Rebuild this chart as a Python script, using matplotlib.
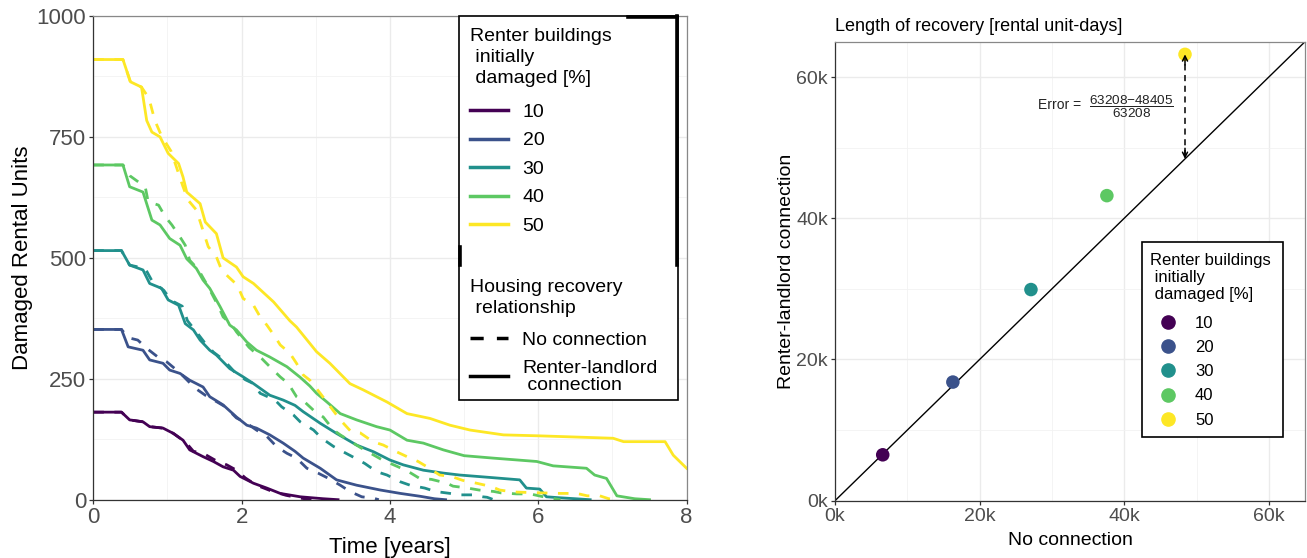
import matplotlib.pyplot as plt
from matplotlib.lines import Line2D
from matplotlib.patches import Rectangle
from matplotlib.ticker import MultipleLocator, FuncFormatter

plt.rcParams['font.family'] = ['Liberation Sans', 'DejaVu Sans']
plt.rcParams['mathtext.fontset'] = 'custom'
plt.rcParams['mathtext.rm'] = 'Liberation Sans'
plt.rcParams['mathtext.it'] = 'Liberation Sans:italic'
plt.rcParams['mathtext.bf'] = 'Liberation Sans:bold'

# ---- data ----
levels = ['10', '20', '30', '40', '50']
colors = ['#440154', '#3B528B', '#21908C', '#5DC863', '#FDE725']

# renter-landlord connection (solid lines): time [years], damaged rental units
t_conn_10 = [0, 0.38, 0.49, 0.67, 0.76, 0.94, 1.08, 1.21, 1.30, 1.48, 1.62, 1.75, 1.89, 1.98, 2.16, 2.34, 2.52, 2.79, 3.1, 3.3]
v_conn_10 = [181, 181, 165, 161, 151, 148, 137, 123, 103, 89, 79, 68, 61, 48, 34, 24, 13, 6, 2, 0]
t_conn_20 = [0, 0.38, 0.47, 0.67, 0.76, 0.94, 1.03, 1.17, 1.30, 1.48, 1.57, 1.75, 1.93, 2.07, 2.20, 2.38, 2.56, 2.72,
             2.83, 3.06, 3.28, 3.55, 3.87, 4.14, 4.41, 4.6, 4.75]
v_conn_20 = [352, 352, 316, 309, 289, 282, 268, 261, 247, 233, 213, 196, 171, 154, 148, 134, 117, 100,
             86, 65, 41, 30, 20, 13, 7, 2, 0]
t_conn_30 = [0, 0.38, 0.49, 0.67, 0.76, 0.92, 1.01, 1.15, 1.24, 1.35, 1.44, 1.57, 1.66, 1.84, 2.02, 2.16, 2.38, 2.56,
             2.72, 2.83, 3.06, 3.28, 3.55, 3.78, 4.0, 4.18, 4.45, 4.72, 4.94, 5.35, 5.75, 5.84, 6.02, 6.11, 6.29, 6.5, 6.7]
v_conn_30 = [515, 515, 485, 475, 447, 437, 413, 402, 364, 351, 330, 309, 299, 271, 254, 240, 216, 206,
             195, 182, 158, 137, 113, 99, 82, 72, 61, 55, 51, 46, 41, 24, 22, 6, 4, 2, 0]
t_conn_40 = [0, 0.40, 0.49, 0.67, 0.79, 0.90, 1.03, 1.17, 1.26, 1.39, 1.48, 1.57, 1.71, 1.84, 1.93, 2.07, 2.20, 2.38,
             2.61, 2.79, 2.92, 3.01, 3.15, 3.33, 3.55, 3.82, 4.0, 4.23, 4.45, 4.72, 5.0, 5.39, 5.98, 6.2, 6.65, 6.76,
             6.92, 7.06, 7.3, 7.5]
v_conn_40 = [692, 692, 647, 636, 578, 568, 540, 526, 498, 478, 454, 437, 399, 361, 351, 326, 309, 295,
             275, 253, 235, 220, 202, 178, 165, 151, 144, 123, 117, 103, 91, 86, 79, 70, 65, 51,
             44, 8, 2, 0]
t_conn_50 = [0, 0.40, 0.50, 0.65, 0.72, 0.79, 0.90, 1.01, 1.15, 1.21, 1.26, 1.44, 1.51, 1.66, 1.75, 1.93, 2.02, 2.16,
             2.43, 2.65, 2.74, 2.92, 3.01, 3.19, 3.46, 3.64, 3.96, 4.23, 4.54, 4.81, 5.08, 5.53, 6.02, 7.01, 7.15,
             7.71, 7.82, 8.0]
v_conn_50 = [910, 910, 864, 853, 784, 760, 750, 716, 695, 667, 636, 612, 574, 550, 500, 481, 461, 447,
             409, 370, 357, 323, 306, 282, 240, 227, 202, 178, 168, 154, 144, 134, 132, 127, 120,
             120, 92, 65]

# no connection (dashed lines)
t_none_10 = [0, 0.38, 0.49, 0.67, 0.76, 0.94, 1.08, 1.25, 1.35, 1.48, 1.64, 1.80, 1.93, 2.05, 2.2, 2.4, 2.6, 2.8, 2.95]
v_none_10 = [181, 181, 165, 161, 151, 148, 137, 118, 100, 96, 82, 72, 61, 45, 30, 18, 9, 3, 0]
t_none_20 = [0, 0.38, 0.47, 0.60, 0.72, 0.87, 0.99, 1.17, 1.37, 1.51, 1.67, 1.78, 1.93, 2.07, 2.2, 2.34, 2.47, 2.61,
             2.74, 2.88, 3.03, 3.16, 3.33, 3.46, 3.62, 3.78, 3.85]
v_none_20 = [352, 352, 335, 330, 313, 295, 285, 262, 231, 216, 202, 192, 169, 158, 144, 131, 110, 96,
             86, 65, 55, 45, 30, 17, 6, 3, 0]
t_none_30 = [0, 0.38, 0.49, 0.70, 0.80, 0.95, 1.05, 1.2, 1.27, 1.40, 1.50, 1.62, 1.75, 1.90, 2.05, 2.16, 2.25, 2.45,
             2.54, 2.70, 2.79, 2.97, 3.08, 3.24, 3.37, 3.53, 3.66, 3.82, 3.96, 4.14, 4.27, 4.47, 4.61, 4.81, 4.94,
             5.12, 5.25, 5.31, 5.4]
v_none_30 = [515, 515, 485, 478, 450, 433, 412, 400, 370, 345, 325, 305, 290, 265, 248, 240, 220, 206,
             192, 175, 161, 144, 127, 110, 99, 86, 75, 58, 51, 37, 30, 24, 17, 13, 10,
             10, 6, 5, 0]
t_none_40 = [0, 0.40, 0.49, 0.58, 0.70, 0.74, 0.88, 0.97, 1.06, 1.17, 1.24, 1.30, 1.42, 1.55, 1.69, 1.75, 1.87, 1.93,
             2.10, 2.27, 2.38, 2.52, 2.63, 2.74, 2.85, 2.99, 3.10, 3.24, 3.33, 3.6, 3.9, 4.11, 4.25, 4.40, 4.56,
             4.77, 4.85, 5.05, 5.2, 5.4, 5.5, 5.71, 5.89, 6.1, 6.3]
v_none_40 = [692, 692, 670, 660, 647, 616, 609, 585, 568, 543, 526, 495, 475, 440, 399, 378, 361, 347,
             315, 292, 275, 254, 240, 213, 202, 182, 171, 144, 134, 108, 82, 68, 58, 44, 42,
             34, 28, 24, 20, 17, 14, 12, 12, 5, 0]
t_none_50 = [0, 0.40, 0.50, 0.65, 0.75, 0.83, 0.92, 1.05, 1.21, 1.28, 1.39, 1.55, 1.66, 1.73, 1.82, 1.94, 2.02, 2.16,
             2.25, 2.34, 2.45, 2.52, 2.65, 2.74, 2.83, 2.92, 3.06, 3.33, 3.48, 3.6, 3.77, 3.91, 4.09, 4.23, 4.38,
             4.5, 4.67, 4.83, 4.98, 5.17, 5.37, 5.48, 5.66, 5.85, 6.29, 6.52, 6.66, 6.83, 6.95, 7.05]
v_none_50 = [910, 910, 864, 853, 830, 784, 752, 720, 647, 619, 599, 523, 502, 475, 461, 444, 416, 402,
             378, 361, 337, 320, 303, 282, 258, 247, 220, 165, 140, 138, 120, 113, 99, 89, 79,
             68, 51, 48, 40, 34, 27, 20, 16, 15, 13, 13, 8, 8, 2, 0]

t_conn = [t_conn_10, t_conn_20, t_conn_30, t_conn_40, t_conn_50]
v_conn = [v_conn_10, v_conn_20, v_conn_30, v_conn_40, v_conn_50]
t_none = [t_none_10, t_none_20, t_none_30, t_none_40, t_none_50]
v_none = [v_none_10, v_none_20, v_none_30, v_none_40, v_none_50]

# length of recovery [rental unit-days]
days_no_conn = [6600, 16300, 27100, 37600, 48405]
days_conn = [6500, 16800, 29900, 43200, 63208]

# ---- figure ----
W, H = 1307, 558
fig = plt.figure(figsize=(W / 100, H / 100), dpi=100)


def style_axes(ax):
    ax.set_axisbelow(True)
    ax.grid(which='major', color='#EBEBEB', lw=1.0)
    ax.grid(which='minor', color='#F2F2F2', lw=0.6)
    for side in ['left', 'bottom']:
        ax.spines[side].set_color('#333333')
    for side in ['top', 'right']:
        ax.spines[side].set_color('#888888')
    for s in ax.spines.values():
        s.set_linewidth(0.9)
    ax.tick_params(which='major', length=3, width=0.9, color='#333333', labelcolor='#4D4D4D', pad=2)
    ax.tick_params(which='minor', length=0)


# left panel: damaged units over time
ax1 = fig.add_axes([93.3 / W, 1 - 499.7 / H, 593.3 / W, 483.7 / H])
style_axes(ax1)
for i in range(5):
    ax1.plot(t_none[i], v_none[i], color=colors[i], lw=2, dashes=(3.8, 3.8))
    ax1.plot(t_conn[i], v_conn[i], color=colors[i], lw=2)
ax1.set_xlim(0, 8)
ax1.set_ylim(0, 1000)
ax1.xaxis.set_major_locator(MultipleLocator(2))
ax1.xaxis.set_minor_locator(MultipleLocator(1))
ax1.yaxis.set_major_locator(MultipleLocator(250))
ax1.yaxis.set_minor_locator(MultipleLocator(125))
ax1.tick_params(labelsize=16)
ax1.set_xlabel('Time [years]', fontsize=16, labelpad=7)
ax1.set_ylabel('Damaged Rental Units', fontsize=16, labelpad=3)

# legend box (with the doubled border of the original)
box = Rectangle((459 / W, 1 - 400 / H), 219 / W, 384 / H, transform=fig.transFigure,
                facecolor='white', edgecolor='black', lw=1.2, zorder=4, clip_on=False)
ax1.add_patch(box)
for xs, ys in [([677, 677], [16, 265]), ([628, 677], [16.5, 16.5]), ([460, 460], [247, 265])]:
    ax1.add_line(Line2D([x / W for x in xs], [1 - y / H for y in ys], transform=fig.transFigure,
                        color='black', lw=2.6, zorder=4, clip_on=False))

leg_kw = dict(loc='upper left', bbox_transform=fig.transFigure, frameon=False, fontsize=14,
              title_fontsize=14, alignment='left', handlelength=1.95, handletextpad=0.75,
              labelspacing=0.56, borderpad=0, borderaxespad=0)
h1 = [Line2D([], [], color=c, lw=2.5) for c in colors]
leg1 = ax1.legend(h1, levels, title='Renter buildings\n initially\n damaged [%]',
                  bbox_to_anchor=(470 / W, 1 - 28 / H), **leg_kw)
leg1.get_title().set_linespacing(1.32)
leg1._legend_box.sep = 11.5  # a bit more room under the title
ax1.add_artist(leg1)
h2 = [Line2D([], [], color='black', lw=2.5, dashes=(3.8, 3.8)), Line2D([], [], color='black', lw=2.5)]
leg2 = ax1.legend(h2, ['No connection', 'Renter-landlord\n connection'],
                  title='Housing recovery\n relationship', bbox_to_anchor=(470 / W, 1 - 279 / H), **leg_kw)
leg2.get_title().set_linespacing(1.32)
leg2._legend_box.sep = 10
for t in leg2.get_texts():
    t.set_linespacing(1.02)

# right panel: length of recovery
ax2 = fig.add_axes([835 / W, 1 - 500.7 / H, 470 / W, 459 / H])
style_axes(ax2)
ax2.axline((0, 0), slope=1, color='black', lw=1.0, zorder=2)
ax2.scatter(days_no_conn, days_conn, c=colors, s=95, zorder=3, linewidths=0)
ax2.set_xlim(0, 65000)
ax2.set_ylim(0, 65000)
for axis in [ax2.xaxis, ax2.yaxis]:
    axis.set_major_locator(MultipleLocator(20000))
    axis.set_minor_locator(MultipleLocator(10000))
    axis.set_major_formatter(FuncFormatter(lambda v, p: f'{int(v / 1000)}k'))
ax2.tick_params(labelsize=14)
ax2.set_xlabel('No connection', fontsize=14, labelpad=5)
ax2.set_ylabel('Renter-landlord connection', fontsize=14, labelpad=1)
ax2.set_title('Length of recovery [rental unit-days]', loc='left', fontsize=13, pad=8)

# error arrow for the 50 % case
x50, y50 = days_no_conn[-1], days_conn[-1]
ax2.plot([x50, x50], [x50 + 400, y50 - 400], color='black', lw=1.1, dashes=(4, 3), zorder=2)
for tip, tail in [(y50, y50 - 1500), (x50, x50 + 1500)]:
    ax2.annotate('', xy=(x50, tip), xytext=(x50, tail),
                 arrowprops=dict(arrowstyle='->', lw=1.1, color='black', shrinkA=0, shrinkB=0,
                                 mutation_scale=9))
ax2.text(34100, 56000, 'Error =', fontsize=10, ha='right', va='center', color='#222222')
ax2.text(41000, 55800, r'$\dfrac{%d{-}%d}{%d}$' % (y50, x50, y50),
         fontsize=9.7, ha='center', va='center', color='#222222')

# right legend
box2 = Rectangle((1142 / W, 1 - 437 / H), 141 / W, 195 / H, transform=fig.transFigure,
                 facecolor='white', edgecolor='black', lw=1.2, zorder=4, clip_on=False)
ax2.add_patch(box2)
h3 = [Line2D([], [], ls='none', marker='o', ms=9.5, color=c) for c in colors]
leg3 = ax2.legend(h3, levels, title='Renter buildings\n initially\n damaged [%]', loc='upper left',
                  bbox_to_anchor=(1150 / W, 1 - 253 / H), bbox_transform=fig.transFigure,
                  frameon=False, fontsize=12, title_fontsize=12, alignment='left',
                  handlelength=2.2, handletextpad=0.5, labelspacing=0.55, borderpad=0, borderaxespad=0)
leg3.get_title().set_linespacing(1.17)
leg3._legend_box.sep = 10

fig.savefig('out.png', dpi=100)
